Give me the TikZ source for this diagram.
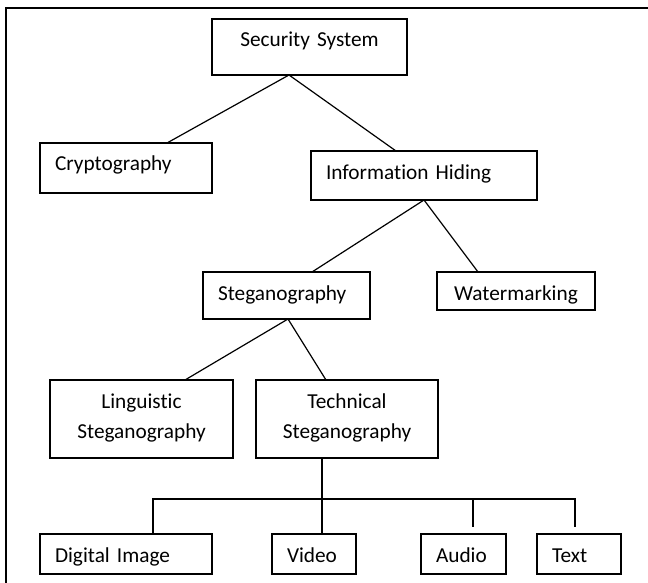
\documentclass[tikz,border=0pt]{standalone}
\usepackage{fontspec}
\setmainfont{Carlito}[Ligatures=NoCommon]

\begin{document}
\begin{tikzpicture}[x=1pt,y=-1pt,line width=1.2pt,
    box/.style={draw, outer sep=0pt, anchor=north west, inner xsep=15pt, inner ysep=0pt,
      text height=28pt, font=\fontsize{21.3}{30}\selectfont, align=left}]
        \useasboundingbox (0,0) rectangle (648,583);
        % frame around the chart
        \draw[line width=1.8pt] (6,583)--(6,8)--(648,8);
        % top levels
        \node[box, align=center, text width=165pt, text depth=28pt] (sec) at (212,19) {Security System};
        \node[box, text width=142pt, text depth=22pt] (crypt) at (40,143) {Cryptography};
        \node[box, text width=196pt, text depth=21pt] (info) at (311,151) {Information Hiding};
        \node[box, text width=137pt, text depth=19pt] (steg) at (203,272) {Steganography};
        \node[box, align=center, text width=128pt, text depth=10pt] (water) at (437,272) {Watermarking};
        \node[box, align=center, text width=153pt, text depth=50pt] (ling) at (50,380) {Linguistic\\Steganography};
        \node[box, align=center, text width=152pt, text depth=50pt] (tech) at (256,380) {Technical\\Steganography};
        % media row
        \node[box, text width=142pt, text depth=12pt] (img) at (40,534) {Digital Image};
        \node[box, text width=54pt, text depth=12pt] (video) at (272,534) {Video};
        \node[box, text width=55pt, text depth=12pt] (audio) at (421,534) {Audio};
        \node[box, text width=54pt, text depth=12pt] (text) at (537,534) {Text};
        % branches
        \draw ([xshift=41pt]crypt.north)--([xshift=-20.5pt]sec.south)--([xshift=-28pt]info.north);
        \draw ([xshift=25.5pt]steg.north)--(info.south)--([xshift=-38pt]water.north);
        \draw ([xshift=43.5pt]ling.north)--([xshift=1.5pt]steg.south)--([xshift=-21pt]tech.north);
        % bus to the media boxes
        \coordinate (bus) at ([xshift=-25pt,yshift=-41pt]tech.south);
        \coordinate (audiotap) at ([xshift=9.5pt,yshift=7pt]audio.north);
        \coordinate (texttap) at ([xshift=-4pt,yshift=7pt]text.north);
        \draw ([xshift=-25pt]tech.south)--([xshift=8pt]video.north);
        \draw ([xshift=27pt]img.north) |- (bus) -| (texttap);
        \draw (audiotap |- bus)--(audiotap);
    \end{tikzpicture}
\end{document}
